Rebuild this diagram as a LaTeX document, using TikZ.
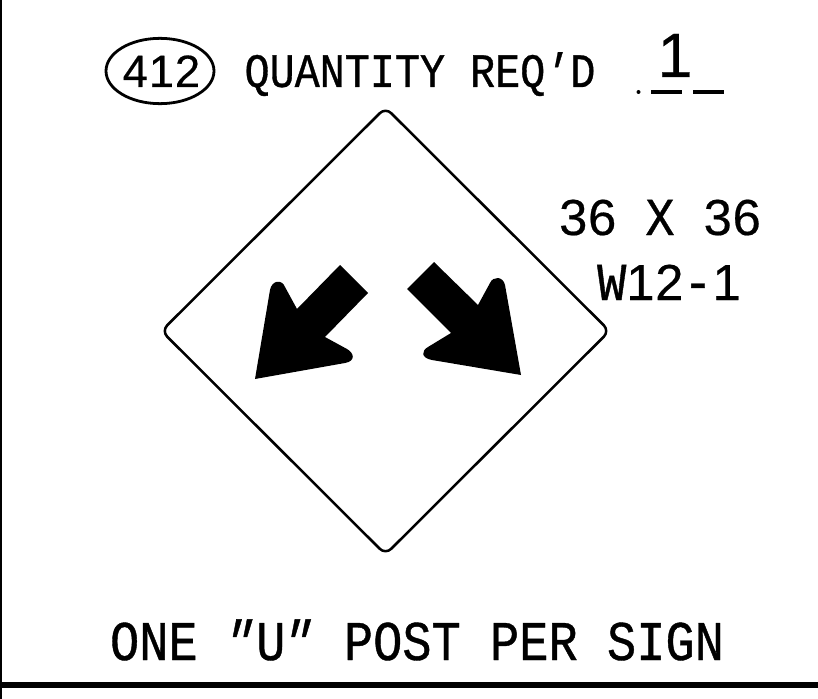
\documentclass[tikz,border=0pt]{standalone}
\usepackage{fontspec}
\usetikzlibrary{shapes.geometric}
\newfontfamily\cadfont[FakeStretch=0.87,FakeBold=0.7]{Liberation Mono}
\newfontfamily\primefont[FakeStretch=0.87,FakeBold=0.7,FakeSlant=0.25]{Liberation Mono}
\newfontfamily\wideletter[FakeStretch=0.91,FakeBold=0.7]{Liberation Mono}
\newfontfamily\digitfont[LetterSpace=1.6,FakeBold=0.4]{Liberation Sans}
\newfontfamily\markfont[LetterSpace=2,FakeBold=0.4]{Liberation Sans}
\newcommand{\sizedigit}[1]{{\digitfont\fontsize{38}{38}\selectfont #1}}
\newcommand{\slantprime}[1]{\kern-0.13em{\primefont #1}\kern0.13em\relax}
\tikzset{
  cadtext/.style={inner sep=0pt,anchor=base,font=\cadfont\fontsize{36}{36}\selectfont},
  posttext/.style={inner sep=0pt,anchor=base,font=\cadfont\fontsize{42}{42}\selectfont},
  sizetext/.style={inner sep=0pt,anchor=base,font=\wideletter\fontsize{40}{40}\selectfont},
  marktext/.style={inner sep=0pt,anchor=base,font=\markfont\fontsize{34}{34}\selectfont},
  signline/.style={line width=1.9pt,line join=round},
  rule/.style={line width=1.9pt}
}
\begin{document}
\begin{tikzpicture}[x=0.75pt,y=-0.75pt]
\useasboundingbox (0,0) rectangle (818,699);
\fill[white] (0,0) rectangle (818,699);
\coordinate (f0) at (1,0);
\coordinate (f1) at (1,699);
\coordinate (f2) at (0,685);
\coordinate (f3) at (818,685);
\draw[rule] (f0) -- (f1);
\draw[line width=4.5pt] (f2) -- (f3);
\node[draw,ellipse,line width=2.1pt,minimum width=81pt,minimum height=49pt,inner sep=0pt] (v0) at (160,71) {};
\node[marktext] (v1) at (161.5,87) {412};
\node[cadtext] (v2) at (420,87) {QUANTITY REQ\slantprime{′}D};
\node[marktext,font=\markfont\fontsize{47}{47}\selectfont] (v3) at (675,77) {1};
\fill (638.5,92) circle (2);
\coordinate (d0) at (651,92);
\coordinate (d1) at (682,92);
\coordinate (d2) at (693,92);
\coordinate (d3) at (724,92);
\draw[line width=2.5pt] (d0) -- (d1) (d2) -- (d3);
\node[sizetext] (v4) at (660,235) {\sizedigit{36} X \sizedigit{36}};
\node[sizetext] (v5) at (669,300) {W\sizedigit{12}-\sizedigit{1}};
\node[posttext] (v6) at (417,660) {ONE \slantprime{″}U\slantprime{″} POST PER SIGN};
\draw[signline,rounded corners=6pt] (385.5,107.5) -- (609.5,331) -- (385.5,554.5) -- (161.5,331) -- cycle;
\fill (340,265) -- (368,293) -- (325,337) -- (347,349) .. controls (354,353) and (356,361) .. (345,363) -- (255,379) -- (270,290) .. controls (272,280) and (282,279) .. (285,287) -- (297,309) -- cycle;
\fill (434,262) -- (407,289) -- (451,333) -- (428,347) .. controls (421,351) and (421,358) .. (432,360) -- (521,375) -- (505,285) .. controls (503,276) and (493,276) .. (490,283) -- (478,305) -- cycle;
\end{tikzpicture}
\end{document}
